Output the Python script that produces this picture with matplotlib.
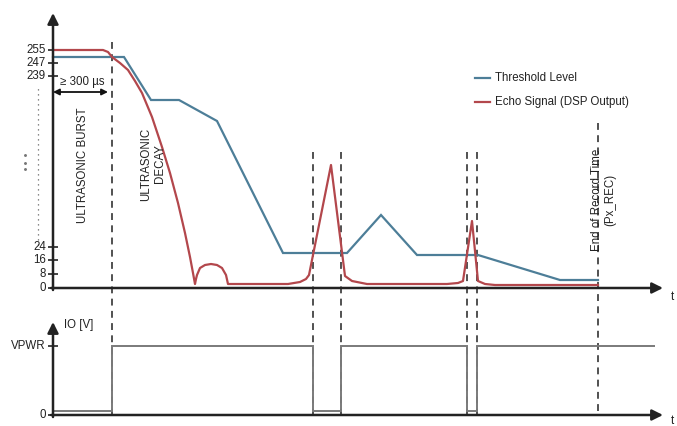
import matplotlib
matplotlib.use("Agg")
import matplotlib.pyplot as plt

plt.rcParams['font.family'] = ['Liberation Sans', 'DejaVu Sans']

# ---------------- data (time units, level units) ----------------
# Threshold level (blue)
thr_t = [0, 71, 98, 126, 164, 230, 294, 328, 364, 425, 507, 545]
thr_h = [231, 231, 188, 188, 167, 35, 35, 73, 33, 33, 8, 8]

# Echo signal (red)
echo_t = [0, 50, 55, 59, 67, 75, 82, 89, 99, 109, 117, 125, 132, 137, 140, 142,
          143, 144, 147, 152, 158, 164, 169, 173, 175,
          235, 247, 253, 256, 278, 292, 299, 314, 394, 405, 410, 419, 425,
          432, 442, 545]
echo_h = [238, 238, 236, 231, 225, 218, 207, 195, 171, 141, 115, 85, 55, 31, 15, 4,
          9, 13, 20, 23, 24, 23, 20, 13, 4,
          4, 6, 9, 13, 123, 12, 7, 4, 4, 5, 7, 67, 7,
          4, 3, 3]

# y ticks of the top panel
ytick_pos = [238, 225, 212, 41, 28, 14, 0]
ytick_lab = ['255', '247', '239', '24', '16', '8', '0']

# dashed marker times and their top ends
dash_t = [59, 260, 288, 414, 424, 545]
dash_top = [246, 136, 136, 136, 136, 165]

# IO output (bottom panel)
io_edges = [0, 59, 260, 288, 414, 424, 602]
io_levels = [4, 69, 4, 69, 4, 69]
io_tick_pos = [69, 0]
io_tick_lab = ['VPWR', '0']

# dotted axis-break marks
dots_t = [-28, -28, -28]
dots_h = [133, 125, 119]

# ---------------- figure ----------------
W, H = 677, 426
fig = plt.figure(figsize=(W / 100, H / 100), dpi=100)
top = fig.add_axes([0, 126 / 426, 1, 300 / 426])
bot = fig.add_axes([0, 0, 1, 126 / 426])
for ax in (top, bot):
    ax.set_axis_off()
    ax.set_xlim(-53, 624)
top.set_ylim(-12, 288)
bot.set_ylim(-11, 115)

blue = '#4d7e98'
red = '#b3474c'
axc = '#222222'
txtc = '#222222'
fs = 8.3

# ---- top panel axes ----
top.annotate('', xy=(0, 275), xytext=(0, -2),
             arrowprops=dict(arrowstyle='-|>', lw=1.8, color=axc,
                             mutation_scale=16, shrinkA=0, shrinkB=0))
top.annotate('', xy=(610, 0), xytext=(-2, 0),
             arrowprops=dict(arrowstyle='-|>', lw=1.8, color=axc,
                             mutation_scale=16, shrinkA=0, shrinkB=0))
top.text(619, -9, 't', fontsize=fs, color=txtc, ha='center', va='center')
for p, lab in zip(ytick_pos, ytick_lab):
    top.plot([-5, 5], [p, p], color=axc, lw=1.2, solid_capstyle='butt')
    top.text(-7, p, lab, fontsize=fs, color=txtc, ha='right', va='center')

# axis break dots
top.plot([-15, -15], [43, 203], color='#666666', lw=0.9, ls=(0, (1, 3)))
top.plot(dots_t, dots_h, ls='none', marker='o', ms=1.1, color='#777777')

# dashed verticals (span both panels)
for t, tp in zip(dash_t, dash_top):
    top.plot([t, t], [tp, -127], color='#222222', lw=1.1,
             ls=(0, (4.5, 3.5)), clip_on=False)

# curves
top.plot(thr_t, thr_h, color=blue, lw=1.6, solid_joinstyle='miter')
top.plot(echo_t, echo_h, color=red, lw=1.6)

# legend
top.plot([422, 437], [210, 210], color=blue, lw=1.6)
top.text(442, 210, 'Threshold Level', fontsize=fs, color=txtc, va='center')
top.plot([422, 437], [186, 186], color=red, lw=1.6)
top.text(442, 186, 'Echo Signal (DSP Output)', fontsize=fs, color=txtc,
         va='center')

# annotations
top.annotate('', xy=(55, 196), xytext=(0, 196),
             arrowprops=dict(arrowstyle='<|-|>', lw=1.3, color='#111111',
                             mutation_scale=9, shrinkA=0, shrinkB=0))
top.text(29, 206, '≥ 300 µs', fontsize=fs, color=txtc, ha='center',
         va='center')
top.text(30, 123, 'ULTRASONIC BURST', fontsize=fs, color=txtc, rotation=90,
         ha='center', va='center')
top.text(100, 124, 'ULTRASONIC\nDECAY', fontsize=fs, color=txtc, rotation=90,
         ha='center', va='center', multialignment='center', linespacing=1.15)
top.text(551, 88, 'End of Record Time\n(Px_REC)', fontsize=fs, color=txtc,
         rotation=90, ha='center', va='center', multialignment='center',
         linespacing=1.15)

# ---- bottom panel ----
bot.annotate('', xy=(0, 93), xytext=(0, -2),
             arrowprops=dict(arrowstyle='-|>', lw=1.8, color=axc,
                             mutation_scale=16, shrinkA=0, shrinkB=0))
bot.annotate('', xy=(610, 0), xytext=(-2, 0),
             arrowprops=dict(arrowstyle='-|>', lw=1.8, color=axc,
                             mutation_scale=16, shrinkA=0, shrinkB=0))
bot.text(619, -6, 't', fontsize=fs, color=txtc, ha='center', va='center')
bot.text(11, 90, 'IO [V]', fontsize=fs, color=txtc, ha='left', va='center')
for p, lab in zip(io_tick_pos, io_tick_lab):
    bot.plot([-5, 5], [p, p], color=axc, lw=1.2, solid_capstyle='butt')
    bot.text(-7, p, lab, fontsize=fs, color=txtc, ha='right', va='center')
bot.stairs(io_levels, io_edges, color='#7a7a7a', lw=1.4, baseline=None)

fig.savefig('out.png', dpi=100, facecolor='white')
